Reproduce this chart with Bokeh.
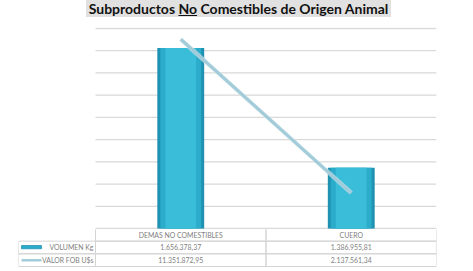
import numpy as np
from bokeh.plotting import figure
from bokeh.models import Range1d, Div, ColumnDataSource
from bokeh.layouts import column
from bokeh.embed import file_html
from bokeh.resources import INLINE
from bokeh.core.properties import value

# ---- data ----
categories = ["DEMAS NO COMESTIBLES", "CUERO"]
volumen_kg = [1656378.37, 1386955.81]
valor_fob = [11351872.95, 2137561.34]
series_names = ["VOLUMEN Kg", "VALOR FOB U$s"]
title_before = "Subproductos "
title_underlined = "No"
title_after = " Comestibles de Origen Animal"

vol_start, vol_end, vol_step = 1250000, 1700000, 50000
val_start, val_end = 0, 12000000


def fmt(v):
    s = f"{v:,.2f}"
    return s.replace(",", "X").replace(".", ",").replace("X", ".")


FONT = "Lato"
W = 470
BAR_COLS = [(0.275, "#1f92b2"), (0.24, "#2caccb"), (0.18, "#3abdd9")]
LINE_COL = "#a2ccd9"
GRID_COL = "#d9d9d9"
TXT_COL = "#808080"
CELL_COL = "#d4d4d4"
TFS = "6.9px"

n = len(categories)
idx = list(range(n))
centers = [i + 0.5 for i in idx]
LEG = 77 / 170.5          # width of legend column, in category widths
PLOT_PX = 200.0           # pixel height of value area
pad_vol = (vol_end - vol_start) / PLOT_PX
pad_val = (val_end - val_start) / PLOT_PX

# ---- title ----
title = Div(
    text=(f'<div style="width:{W}px;text-align:center;">'
          f'<span style="display:inline-block;background:#e1e1e1;font-family:{FONT};'
          f'font-weight:bold;font-size:14px;line-height:17px;color:#111;padding:0 3px;margin-left:7px;">'
          f'{title_before}<u>{title_underlined}</u>{title_after}</span></div>'),
    width=W, height=20, styles={"margin": "0"},
)

# ---- chart ----
p = figure(x_range=Range1d(-LEG, n),
           y_range=Range1d(vol_start - pad_vol, vol_end + pad_vol),
           width=W, height=209, x_axis_location=None, y_axis_location=None,
           toolbar_location=None, output_backend="svg",
           min_border_left=18, min_border_right=W - 436, min_border_top=7, min_border_bottom=0)
p.extra_y_ranges = {"valor": Range1d(val_start - pad_val, val_end + pad_val)}
p.outline_line_color = None
p.xgrid.visible = False
p.ygrid.visible = False
ticks = list(np.arange(vol_start, vol_end + vol_step / 2, vol_step))
p.segment(x0=0, x1=n, y0=ticks, y1=ticks, line_color=GRID_COL, line_width=1.3)

src = ColumnDataSource(dict(x=centers, vol=volumen_kg, val=valor_fob))
for w, c in BAR_COLS:
    p.vbar(x="x", top="vol", bottom=vol_start, width=w, source=src,
           fill_color=c, line_color=None)
p.line(x="x", y="val", y_range_name="valor", source=src,
       line_color="#dfe9ec", line_width=4.5, line_alpha=0.6)
p.line(x="x", y="val", y_range_name="valor", source=src,
       line_color=LINE_COL, line_width=3.2)

# ---- data table ----
t = figure(x_range=Range1d(-LEG, n), y_range=Range1d(-0.08, 2.92),
           width=W, height=40, x_axis_location=None, y_axis_location=None,
           toolbar_location=None, output_backend="svg",
           min_border_left=18, min_border_right=W - 436, min_border_top=0, min_border_bottom=2)
t.outline_line_color = None
t.xgrid.visible = False
t.ygrid.visible = False
# header cells
t.quad(left=idx, right=[i + 1 for i in idx], bottom=2, top=3,
       fill_color=None, line_color=CELL_COL, line_width=1)
# body cells
rows = [1, 0]
lefts, rights, bots = [], [], []
for r in rows:
    for c in [-LEG] + idx:
        lefts.append(c)
        rights.append(0 if c == -LEG else c + 1)
        bots.append(r)
t.quad(left=lefts, right=rights, bottom=bots, top=[b + 1 for b in bots],
       fill_color=None, line_color=CELL_COL, line_width=1)

t.text(x=centers, y=[2.5] * n, text=categories, text_align="center",
       text_baseline="middle", text_font=value(FONT), text_font_size=TFS,
       text_color=TXT_COL)
t.text(x=centers, y=[1.5] * n, text=[fmt(v) for v in volumen_kg], text_align="center",
       text_baseline="middle", text_font=value(FONT), text_font_size=TFS,
       text_color=TXT_COL)
t.text(x=centers, y=[0.5] * n, text=[fmt(v) for v in valor_fob], text_align="center",
       text_baseline="middle", text_font=value(FONT), text_font_size=TFS,
       text_color=TXT_COL)
t.text(x=[-0.012, -0.012], y=[1.5, 0.5], text=series_names, text_align="right",
       text_baseline="middle", text_font=value(FONT), text_font_size=TFS,
       text_color=TXT_COL)
# legend swatches
t.quad(left=-0.434, right=-0.317, bottom=1.4, top=1.65,
       fill_color=BAR_COLS[1][1], line_color=BAR_COLS[0][1], line_width=0.8)
t.segment(x0=-0.434, x1=-0.317, y0=0.5, y1=0.5, line_color=LINE_COL, line_width=2.5)

layout = column(title, p, t, spacing=0)
open("out.html", "w").write(file_html(layout, INLINE))
